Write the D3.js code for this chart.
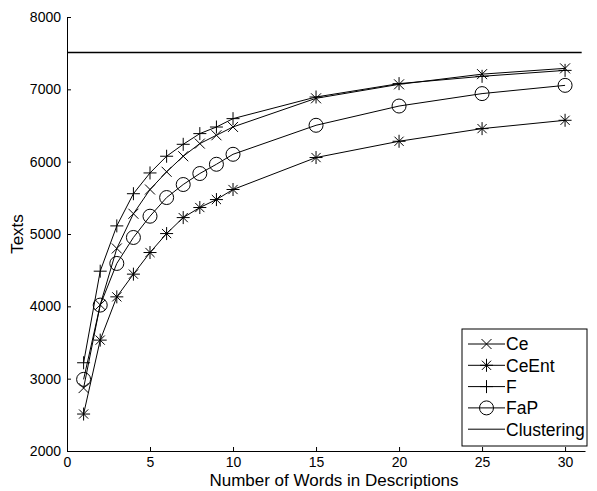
<!DOCTYPE html>
<html>
<head>
<meta charset="utf-8">
<script src="https://cdnjs.cloudflare.com/ajax/libs/d3/7.8.5/d3.min.js"></script>
<style>
  body { margin: 0; background: #fff; }
  svg { font-family: "Liberation Sans", Arial, sans-serif; }
</style>
</head>
<body>
<script>
// Chart values
var words = [1, 2, 3, 4, 5, 6, 7, 8, 9, 10, 15, 20, 25, 30];
var ceValues     = [2870, 4020, 4800, 5280, 5615, 5860, 6075, 6250, 6365, 6480, 6876, 7069, 7210, 7290];
var ceEntValues  = [2511, 3533, 4131, 4445, 4744, 5006, 5227, 5366, 5476, 5615, 6057, 6282, 6457, 6572];
var fValues      = [3220, 4486, 5112, 5557, 5844, 6075, 6240, 6388, 6479, 6595, 6894, 7079, 7180, 7262];
var fapValues    = [2990, 4017, 4593, 4952, 5246, 5504, 5684, 5836, 5964, 6102, 6503, 6769, 6941, 7055];
var clusteringValue = 7510;
var seriesNames = ["Ce", "CeEnt", "F", "FaP", "Clustering"];
var xTicks = [0, 5, 10, 15, 20, 25, 30];
var yTicks = [2000, 3000, 4000, 5000, 6000, 7000, 8000];

// SVG area
var svgWidth = 597;
var svgHeight = 491;
var margin = { top: 17, right: 12, bottom: 40, left: 67 };
var chartWidth = svgWidth - margin.left - margin.right;
var chartHeight = svgHeight - margin.top - margin.bottom;

var svg = d3.select("body")
  .append("svg")
  .attr("width", svgWidth)
  .attr("height", svgHeight);

var chartGroup = svg.append("g")
  .attr("transform", `translate(${margin.left}, ${margin.top})`);

// Scales
var xScale = d3.scaleLinear()
  .domain([0, 31.2])
  .range([0, chartWidth]);

var yScale = d3.scaleLinear()
  .domain([2000, 8000])
  .range([chartHeight, 0]);

// Axes, ticks pointing inward like matlab
var bottomAxis = d3.axisBottom(xScale).tickValues(xTicks).tickFormat(d3.format("d"))
  .tickSizeInner(-4).tickSizeOuter(0).tickPadding(6);
var leftAxis = d3.axisLeft(yScale).tickValues(yTicks).tickFormat(d3.format("d"))
  .tickSizeInner(-4).tickSizeOuter(0).tickPadding(6);

var xAxisG = chartGroup.append("g")
  .attr("transform", `translate(0, ${chartHeight})`)
  .call(bottomAxis);

var yAxisG = chartGroup.append("g")
  .call(leftAxis);

[xAxisG, yAxisG].forEach(function(g) {
  g.selectAll("path, line").attr("stroke", "#000").attr("stroke-width", 1);
  g.selectAll("text").attr("fill", "#000").style("font-size", "14px");
});

// Axis titles
chartGroup.append("text")
  .attr("x", chartWidth / 2 + 8)
  .attr("y", chartHeight + 35)
  .attr("text-anchor", "middle")
  .style("font-size", "17px")
  .text("Number of Words in Descriptions");

chartGroup.append("text")
  .attr("transform", `translate(-44, ${chartHeight / 2}) rotate(-90)`)
  .attr("text-anchor", "middle")
  .style("font-size", "17px")
  .text("Texts");

// Marker shapes
function markerPath(type) {
  var p = d3.path();
  if (type === "times") {
    var a = 5;
    p.moveTo(-a, -a); p.lineTo(a, a);
    p.moveTo(-a, a); p.lineTo(a, -a);
  } else if (type === "plus") {
    var b = 6.5;
    p.moveTo(-b, 0); p.lineTo(b, 0);
    p.moveTo(0, -b); p.lineTo(0, b);
  } else if (type === "star") {
    var c = 6.5, d = 4.6;
    p.moveTo(-c, 0); p.lineTo(c, 0);
    p.moveTo(0, -c); p.lineTo(0, c);
    p.moveTo(-d, -d); p.lineTo(d, d);
    p.moveTo(-d, d); p.lineTo(d, -d);
  } else if (type === "circle") {
    p.arc(0, 0, 7, 0, 2 * Math.PI);
  }
  return p.toString();
}

var series = [
  { name: seriesNames[0], values: ceValues, marker: "times" },
  { name: seriesNames[1], values: ceEntValues, marker: "star" },
  { name: seriesNames[2], values: fValues, marker: "plus" },
  { name: seriesNames[3], values: fapValues, marker: "circle" }
];

var line = d3.line()
  .x(d => xScale(d.x))
  .y(d => yScale(d.y));

// Clustering reference line
chartGroup.append("line")
  .attr("x1", xScale(0))
  .attr("x2", xScale(31.0))
  .attr("y1", yScale(clusteringValue))
  .attr("y2", yScale(clusteringValue))
  .attr("stroke", "#000")
  .attr("stroke-width", 1.4);

series.forEach(function(s) {
  var pts = words.map((w, i) => ({ x: w, y: s.values[i] }));
  chartGroup.append("path")
    .datum(pts)
    .attr("d", line)
    .attr("fill", "none")
    .attr("stroke", "#000")
    .attr("stroke-width", 1);

  chartGroup.selectAll(null)
    .data(pts)
    .enter()
    .append("path")
    .attr("transform", d => `translate(${xScale(d.x)}, ${yScale(d.y)})`)
    .attr("d", markerPath(s.marker))
    .attr("fill", "none")
    .attr("stroke", "#000")
    .attr("stroke-width", 1);
});

// Legend
var legend = svg.append("g").attr("transform", "translate(462, 329)");
legend.append("rect")
  .attr("width", 125)
  .attr("height", 117)
  .attr("fill", "#fff")
  .attr("stroke", "#000")
  .attr("stroke-width", 1);

var legendItems = series.concat([{ name: seriesNames[4], marker: null }]);
legendItems.forEach(function(s, i) {
  var ly = 15 + i * 21.3;
  legend.append("line")
    .attr("x1", 6).attr("x2", 43)
    .attr("y1", ly).attr("y2", ly)
    .attr("stroke", "#000")
    .attr("stroke-width", 1);
  if (s.marker) {
    legend.append("path")
      .attr("transform", `translate(24.5, ${ly})`)
      .attr("d", markerPath(s.marker))
      .attr("fill", "none")
      .attr("stroke", "#000")
      .attr("stroke-width", 1);
  }
  legend.append("text")
    .attr("x", 44)
    .attr("y", ly)
    .attr("dy", "0.36em")
    .style("font-size", "17.5px")
    .text(s.name);
});
</script>
</body>
</html>
